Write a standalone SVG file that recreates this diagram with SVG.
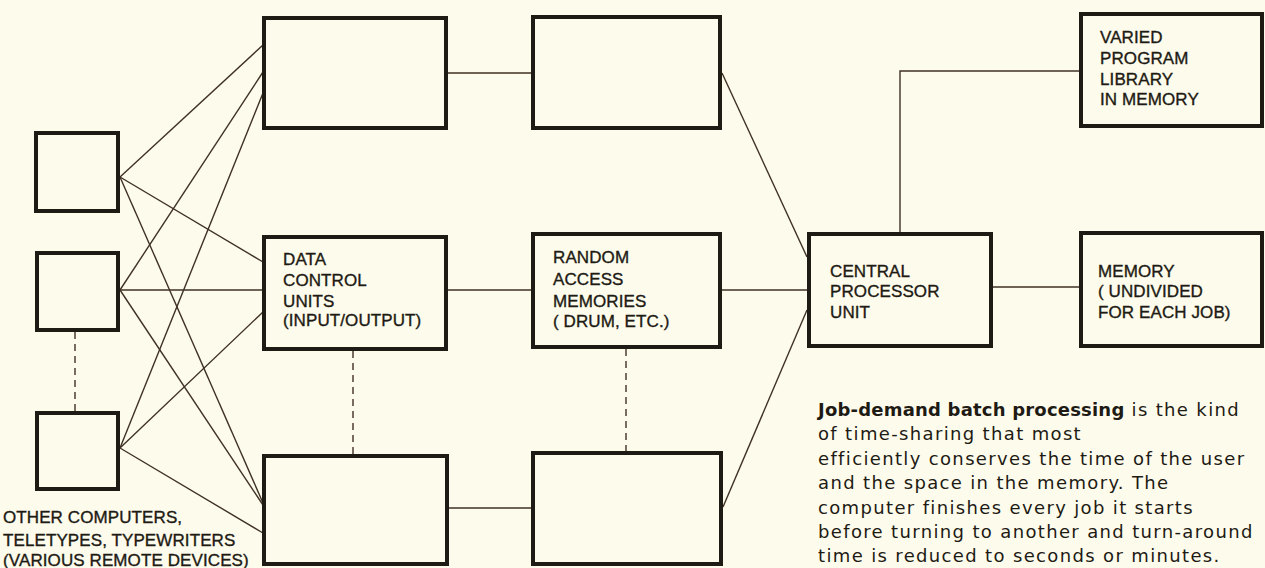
<svg xmlns="http://www.w3.org/2000/svg" width="1265" height="568" viewBox="0 0 1265 568">
<style>
.box{fill:none;stroke:#1e1a14;stroke-width:4}
.ln{fill:none;stroke:#3f3124;stroke-width:1.4}
.dash{fill:none;stroke:#3f3124;stroke-width:1.4;stroke-dasharray:7,5}
.lbl{font-family:"Liberation Sans",Arial,sans-serif;font-size:17px;letter-spacing:0.1px;fill:#1e1a14;stroke:#1e1a14;stroke-width:0.35}
.cap{font-family:"DejaVu Sans",Verdana,sans-serif;font-size:18px;letter-spacing:1.35px;fill:#1e1a14}
.b{font-weight:bold;letter-spacing:0.2px}
</style>
<rect width="1265" height="568" fill="#fdfcec"/>
<g id="connectors">
<line class="ln" x1="120" y1="177" x2="263" y2="45"/>
<line class="ln" x1="120" y1="177" x2="263" y2="262"/>
<line class="ln" x1="120" y1="177" x2="263" y2="503"/>
<line class="ln" x1="120" y1="290" x2="263" y2="72"/>
<line class="ln" x1="120" y1="290" x2="263" y2="290"/>
<line class="ln" x1="120" y1="290" x2="263" y2="505"/>
<line class="ln" x1="120" y1="448" x2="263" y2="93"/>
<line class="ln" x1="120" y1="448" x2="263" y2="312"/>
<line class="ln" x1="120" y1="448" x2="263" y2="533"/>
<line class="dash" x1="75" y1="332" x2="75" y2="411"/>
<line class="dash" x1="353" y1="351" x2="353" y2="454"/>
<line class="dash" x1="626" y1="349" x2="626" y2="451"/>
<line class="ln" x1="448" y1="73" x2="531" y2="73"/>
<line class="ln" x1="448" y1="290" x2="531" y2="290"/>
<line class="ln" x1="449" y1="508" x2="531" y2="508"/>
<line class="ln" x1="722" y1="73" x2="807" y2="257"/>
<line class="ln" x1="722" y1="290" x2="807" y2="290"/>
<line class="ln" x1="723" y1="507" x2="807" y2="310"/>
<polyline class="ln" points="900,232 900,71 1079,71"/>
<line class="ln" x1="993" y1="287" x2="1079" y2="287"/>
</g>
<g id="remote1"><rect class="box" x="36" y="133" width="82" height="78"/></g>
<g id="remote2"><rect class="box" x="37" y="253" width="81" height="77"/></g>
<g id="remote3"><rect class="box" x="37" y="413" width="81" height="76"/></g>
<g id="remote-label">
<text class="lbl" x="3" y="523">OTHER COMPUTERS,</text>
<text class="lbl" x="3" y="546">TELETYPES, TYPEWRITERS</text>
<text class="lbl" x="3" y="566">(VARIOUS REMOTE DEVICES)</text>
</g>
<g id="dcu1"><rect class="box" x="264" y="18" width="182" height="110"/></g>
<g id="dcu2"><rect class="box" x="264" y="237" width="182" height="112"/>
<text class="lbl" x="283" y="265">DATA</text>
<text class="lbl" x="283" y="286">CONTROL</text>
<text class="lbl" x="283" y="307">UNITS</text>
<text class="lbl" x="283" y="326">(INPUT/OUTPUT)</text>
</g>
<g id="dcu3"><rect class="box" x="264" y="456" width="183" height="108"/></g>
<g id="ram1"><rect class="box" x="533" y="17" width="187" height="111"/></g>
<g id="ram2"><rect class="box" x="533" y="234" width="187" height="113"/>
<text class="lbl" x="553" y="263">RANDOM</text>
<text class="lbl" x="553" y="285">ACCESS</text>
<text class="lbl" x="553" y="307">MEMORIES</text>
<text class="lbl" x="553" y="327">( DRUM, ETC.)</text>
</g>
<g id="ram3"><rect class="box" x="533" y="453" width="188" height="111"/></g>
<g id="cpu"><rect class="box" x="809" y="234" width="182" height="112"/>
<text class="lbl" x="830" y="277">CENTRAL</text>
<text class="lbl" x="830" y="297">PROCESSOR</text>
<text class="lbl" x="830" y="318">UNIT</text>
</g>
<g id="library"><rect class="box" x="1081" y="14" width="181" height="112"/>
<text class="lbl" x="1100" y="43">VARIED</text>
<text class="lbl" x="1100" y="64">PROGRAM</text>
<text class="lbl" x="1100" y="85">LIBRARY</text>
<text class="lbl" x="1100" y="105">IN MEMORY</text>
</g>
<g id="memory"><rect class="box" x="1081" y="233" width="181" height="113"/>
<text class="lbl" x="1098" y="277">MEMORY</text>
<text class="lbl" x="1098" y="297">( UNDIVIDED</text>
<text class="lbl" x="1098" y="318">FOR EACH JOB)</text>
</g>
<g id="caption">
<text class="cap" x="818" y="416"><tspan class="b">Job-demand batch processing</tspan> is the kind</text>
<text class="cap" x="818" y="440">of time-sharing that most</text>
<text class="cap" x="818" y="465">efficiently conserves the time of the user</text>
<text class="cap" x="818" y="489">and the space in the memory. The</text>
<text class="cap" x="818" y="514">computer finishes every job it starts</text>
<text class="cap" x="818" y="538">before turning to another and turn-around</text>
<text class="cap" x="818" y="562">time is reduced to seconds or minutes.</text>
</g>
</svg>
